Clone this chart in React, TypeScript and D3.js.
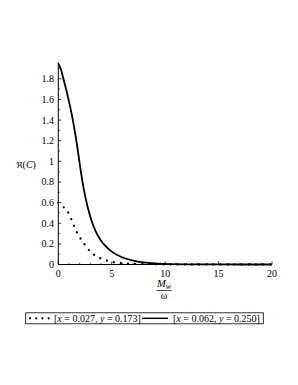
import React from 'react';
import * as d3 from 'd3';

// x = M_w / omega, y = Re(C)
const solidX = [0, 0.25, 0.5, 0.75, 1, 1.25, 1.5, 1.75, 2, 2.25, 2.5, 3, 3.5, 4, 4.5, 5, 6, 7, 8, 9, 10, 12, 15, 20];
const solidY = [1.95, 1.89, 1.79, 1.69, 1.58, 1.46, 1.32, 1.16, 0.98, 0.81, 0.67, 0.46, 0.32, 0.23, 0.17, 0.125, 0.068, 0.037, 0.02, 0.011, 0.006, 0.002, 0.0005, 0];

const dotX = [0, 0.5, 1, 1.25, 1.5, 1.75, 2, 2.5, 3, 3.5, 4, 4.5, 5, 6, 7, 8, 10, 15, 20];
const dotY = [0.6, 0.556, 0.49, 0.43, 0.367, 0.31, 0.265, 0.19, 0.125, 0.085, 0.058, 0.04, 0.026, 0.013, 0.007, 0.004, 0.001, 0, 0];

const xMajor = [0, 5, 10, 15, 20];
const yMajor = [0, 0.2, 0.4, 0.6, 0.8, 1, 1.2, 1.4, 1.6, 1.8];
const yTickLabels = ['0', '0.2', '0.4', '0.6', '0.8', '1', '1.2', '1.4', '1.6', '1.8'];

const legendSeries = [
  { x: '0.027', y: '0.173', dotted: true },
  { x: '0.062', y: '0.250', dotted: false },
];

const FONT = '"Liberation Serif", "Times New Roman", "DejaVu Serif", serif';

export default function App() {
  const W = 298, H = 385;
  const x = d3.scaleLinear().domain([0, 20]).range([58.3, 272]);
  const y = d3.scaleLinear().domain([0, 1.96]).range([264.5, 62.3]);

  const line = d3.line<[number, number]>()
    .x(d => x(d[0]))
    .y(d => y(d[1]))
    .curve(d3.curveMonotoneX);

  const solidPts = solidX.map((v, i) => [v, solidY[i]] as [number, number]);
  const dotPts = dotX.map((v, i) => [v, dotY[i]] as [number, number]);

  const xMinor = d3.range(0, 21, 1).filter(v => v % 5 !== 0);
  const yMinor = d3.range(1, 20, 2).map(v => v / 10);

  const lx = 25.7, ly = 312.8, lw = 237.6, lh = 11;

  return (
    <svg width={W} height={H} style={{ position: 'absolute', left: 0, top: 0, background: '#fff' }} fontFamily={FONT}>
      {/* data */}
      <path d={line(dotPts) || ''} fill="none" stroke="#000" strokeWidth={2.3}
        strokeLinecap="round" strokeDasharray="0.01 7.1" />
      <path d={line(solidPts) || ''} fill="none" stroke="#000" strokeWidth={1.8} />

      {/* axes */}
      <line x1={x(0)} x2={x(20)} y1={y(0)} y2={y(0)} stroke="#000" strokeWidth={1} />
      <line x1={x(0)} x2={x(0)} y1={y(0)} y2={y(1.96)} stroke="#000" strokeWidth={1} />
      {xMajor.map(v => (
        <g key={'xt' + v}>
          <line x1={x(v)} x2={x(v)} y1={y(0)} y2={y(0) - 3} stroke="#000" strokeWidth={0.8} />
          <text x={x(v)} y={277} fontSize={10} textAnchor="middle">{v}</text>
        </g>
      ))}
      {xMinor.map(v => (
        <line key={'xm' + v} x1={x(v)} x2={x(v)} y1={y(0)} y2={y(0) - 1.8} stroke="#000" strokeWidth={0.6} />
      ))}
      {yMajor.map((v, i) => (
        <g key={'yt' + v}>
          <line x1={x(0)} x2={x(0) + 3} y1={y(v)} y2={y(v)} stroke="#000" strokeWidth={0.8} />
          <text x={54} y={y(v) + 3.5} fontSize={10} textAnchor="end">{yTickLabels[i]}</text>
        </g>
      ))}
      {yMinor.map(v => (
        <line key={'ym' + v} x1={x(0)} x2={x(0) + 1.8} y1={y(v)} y2={y(v)} stroke="#000" strokeWidth={0.6} />
      ))}

      {/* y label */}
      <text x={26} y={168} fontSize={10} textAnchor="middle">
        <tspan fontFamily='"DejaVu Sans", sans-serif' fontSize={8}>ℜ</tspan>
        <tspan>(</tspan>
        <tspan fontStyle="italic">C</tspan>
        <tspan>)</tspan>
      </text>

      {/* x label as fraction */}
      <text x={164} y={286.5} fontSize={10.5} textAnchor="middle">
        <tspan fontStyle="italic">M</tspan>
        <tspan fontStyle="italic" fontSize={8} dy={2}>w</tspan>
      </text>
      <line x1={156.5} x2={171.5} y1={290.5} y2={290.5} stroke="#000" strokeWidth={0.7} />
      <text x={164} y={299} fontSize={10} textAnchor="middle">ω</text>

      {/* legend */}
      <rect x={lx} y={ly} width={lw} height={lh} fill="none" stroke="#000" strokeWidth={0.8} />
      <line x1={30} x2={49} y1={318.3} y2={318.3} stroke="#000" strokeWidth={2.2}
        strokeLinecap="round" strokeDasharray="0.01 6.2" />
      <text x={54} y={321.8} fontSize={10}>
        [<tspan fontStyle="italic">x</tspan> = {legendSeries[0].x}, <tspan fontStyle="italic">y</tspan> = {legendSeries[0].y}]
      </text>
      <line x1={142} x2={168} y1={318.3} y2={318.3} stroke="#000" strokeWidth={1.5} />
      <text x={173} y={321.8} fontSize={10}>
        [<tspan fontStyle="italic">x</tspan> = {legendSeries[1].x}, <tspan fontStyle="italic">y</tspan> = {legendSeries[1].y}]
      </text>
    </svg>
  );
}
